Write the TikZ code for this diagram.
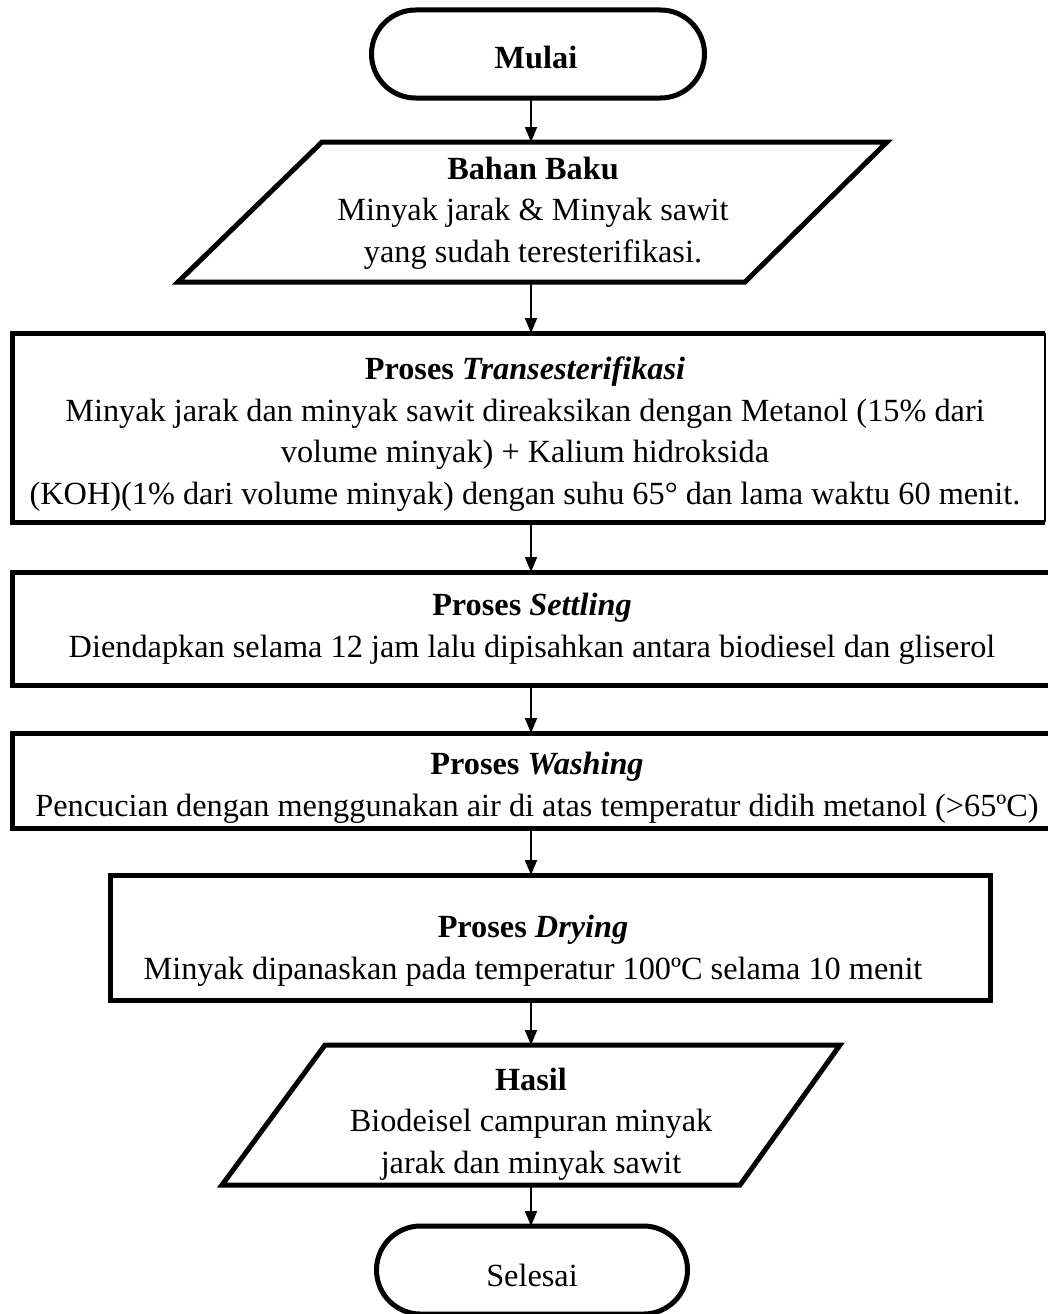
\documentclass[tikz,border=0pt]{standalone}
\usepackage{fontspec}
\setmainfont{Liberation Serif}
\usetikzlibrary{arrows.meta,calc}
\begin{document}
\begin{tikzpicture}[x=1pt,y=-1pt,
  txt/.style={font=\fontsize{32.3}{41.5}\selectfont, align=center, inner sep=0pt, outer sep=0pt},
  thickln/.style={line width=5pt, line join=miter},
  term/.style={draw, line width=5pt, rounded corners=44pt, txt},
  procbox/.style={draw, line width=5pt, txt},
  flow/.style={line width=1.8pt, -{Triangle[length=15pt,width=12pt]}}]
\useasboundingbox (0,0) rectangle (1047,1314);
\coordinate (ax) at (531,0);

% Start
\node[term, minimum width=333pt, minimum height=88pt] (mulai) at (538,54) {};
\node[txt] (mulait) at (536,57) {\textbf{Mulai}};

% Bahan Baku
\node[txt, minimum width=400pt, minimum height=140pt] (bb) at (533,212) {};
\node[txt] (bbt) at (533,213)
  {\textbf{Bahan Baku}\\Minyak jarak \& Minyak sawit\\yang sudah teresterifikasi.};
\draw[thickln] ($(bb.center)+(-211,-70)$) -- ($(bb.center)+(354,-70)$)
  -- ($(bb.center)+(212,70)$) -- ($(bb.center)+(-355,70)$) -- cycle;

% Transesterifikasi
\node[txt, minimum width=1033pt, minimum height=189pt] (tr) at (528.5,427.5) {};
\node[txt] (trt) at (525,434)
  {\textbf{Proses \textit{Transesterifikasi}}\\Minyak jarak dan minyak sawit direaksikan dengan Metanol (15\% dari\hspace*{30pt}\\volume minyak) + Kalium hidroksida\\(KOH)(1\% dari volume minyak) dengan suhu 65° dan lama waktu 60 menit.};
\draw[thickln] (tr.north east) -- (tr.north west) -- (tr.south west) -- (tr.south east);
\draw[line width=1.5pt] (tr.north east) -- (tr.south east);

% Settling
\node[procbox, minimum width=1048pt, minimum height=113pt] (st) at (536,628.5) {};
\node[txt] (stt) at (532,629)
  {\textbf{Proses \textit{Settling}}\\Diendapkan selama 12 jam lalu dipisahkan antara biodiesel dan gliserol};

% Washing
\node[procbox, minimum width=1048pt, minimum height=95pt] (wa) at (536,780.5) {};
\node[txt] (wat) at (537,788)
  {\textbf{Proses \textit{Washing}}\\Pencucian dengan menggunakan air di atas temperatur didih metanol (>65ºC)};

% Drying
\node[procbox, minimum width=880pt, minimum height=125pt] (dr) at (550,937.5) {};
\node[txt] (drt) at (533,951)
  {\textbf{Proses \textit{Drying}}\\Minyak dipanaskan pada temperatur 100ºC selama 10 menit};

% Hasil
\node[txt, minimum width=400pt, minimum height=140pt] (hs) at (531,1115) {};
\node[txt] (hst) at (531,1124)
  {\textbf{Hasil}\\Biodeisel campuran minyak\\jarak dan minyak sawit};
\draw[thickln] ($(hs.center)+(-206,-70)$) -- ($(hs.center)+(309,-70)$)
  -- ($(hs.center)+(209,70)$) -- ($(hs.center)+(-309,70)$) -- cycle;

% End
\node[term, minimum width=311pt, minimum height=88pt] (sel) at (532,1270) {};
\node[txt] (selt) at (532,1275) {Selesai};

% Connectors
\draw[flow] (mulai.south -| ax) -- (bb.north -| ax);
\draw[flow] (bb.south -| ax) -- (tr.north -| ax);
\draw[flow] (tr.south -| ax) -- (st.north -| ax);
\draw[flow] (st.south -| ax) -- (wa.north -| ax);
\draw[flow] (wa.south -| ax) -- (dr.north -| ax);
\draw[flow] (dr.south -| ax) -- (hs.north -| ax);
\draw[flow] (hs.south -| ax) -- (sel.north -| ax);
\end{tikzpicture}
\end{document}
